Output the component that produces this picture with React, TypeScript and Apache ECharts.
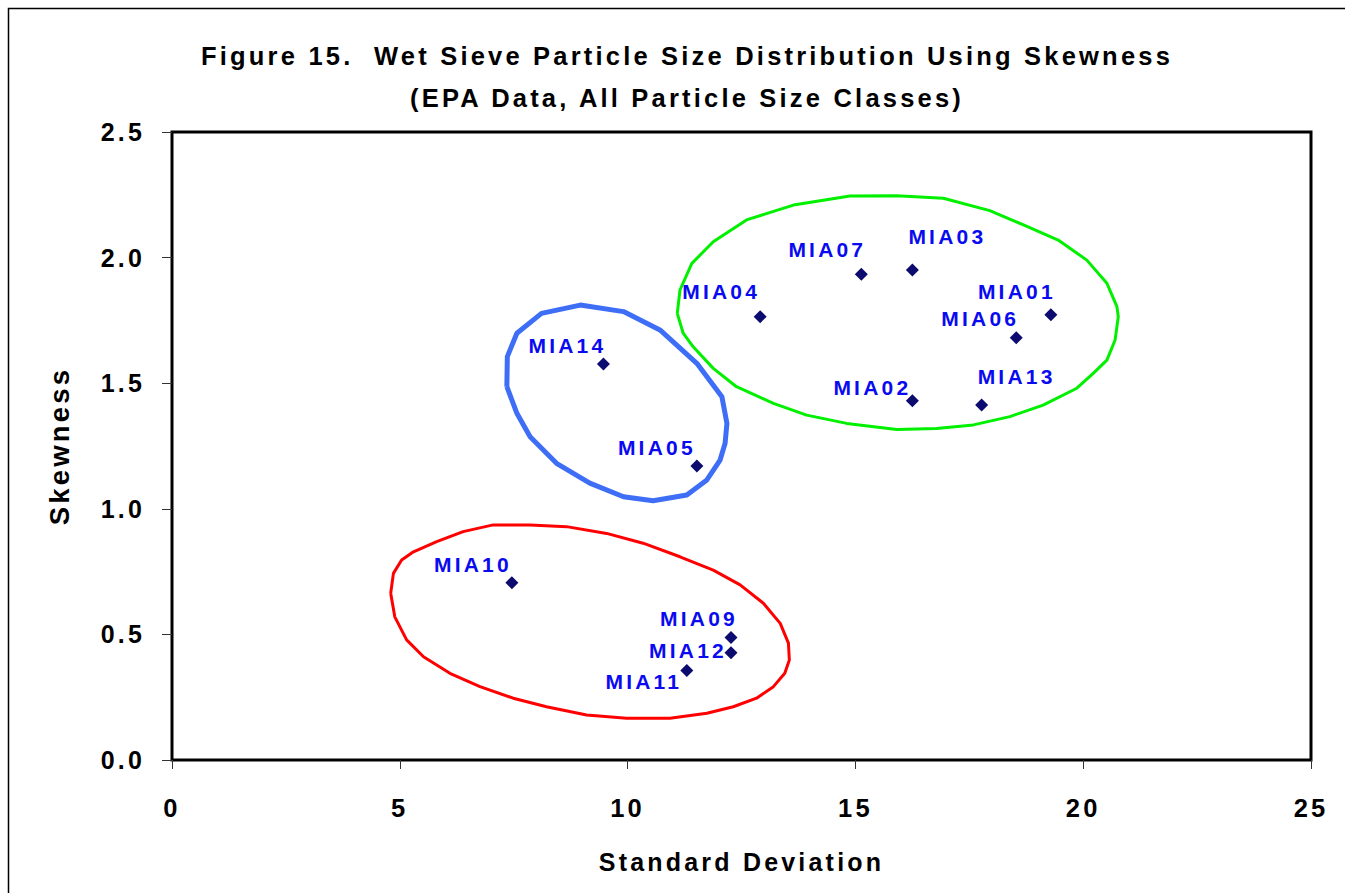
import React, { useEffect, useRef } from 'react';
import * as echarts from 'echarts';

// ---- data ----
const sampleNames = ['MIA01', 'MIA02', 'MIA03', 'MIA04', 'MIA05', 'MIA06', 'MIA07', 'MIA09', 'MIA10', 'MIA11', 'MIA12', 'MIA13', 'MIA14'];
const stdDeviation = [19.29, 16.25, 16.25, 12.91, 11.52, 18.53, 15.13, 12.27, 7.46, 11.30, 12.27, 17.77, 9.47];
const skewness = [1.772, 1.430, 1.951, 1.765, 1.170, 1.681, 1.934, 0.488, 0.706, 0.356, 0.427, 1.413, 1.576];
// label placement (pixels, relative to the marker)
const labelOffsets = [[-34, -23], [-40, -13], [35, -33], [-39, -25], [-40, -19], [-36, -19], [-34, -25], [-32, -19], [-39, -18], [-43, 11], [-43, -2], [35, -29], [-36, -19]];

const xTicks = [0, 5, 10, 15, 20, 25];
const yTicks = [0, 0.5, 1.0, 1.5, 2.0, 2.5];

// hand-drawn group outlines (Standard Deviation, Skewness)
const greenGroup = [
  [11.09, 1.778], [11.15, 1.871], [11.41, 1.977], [11.88, 2.063], [12.61, 2.150], [13.64, 2.209], [14.88, 2.245], [15.91, 2.246],
  [16.93, 2.236], [17.95, 2.187], [18.69, 2.130], [19.45, 2.070], [20.08, 1.990], [20.52, 1.898], [20.74, 1.805], [20.77, 1.765],
  [20.70, 1.672], [20.52, 1.592], [20.22, 1.539], [19.86, 1.480], [19.12, 1.413], [18.39, 1.367], [17.59, 1.334], [16.78, 1.320],
  [15.91, 1.316], [14.81, 1.340], [13.93, 1.373], [13.20, 1.420], [12.39, 1.486], [11.88, 1.559], [11.44, 1.645], [11.22, 1.699],
  [11.09, 1.778],
];
const blueGroup = [
  [7.35, 1.486], [7.36, 1.606], [7.57, 1.699], [8.11, 1.778], [8.96, 1.811], [9.91, 1.785], [10.71, 1.712], [11.52, 1.579],
  [12.07, 1.446], [12.18, 1.340], [12.14, 1.261], [12.03, 1.194], [11.74, 1.115], [11.30, 1.055], [10.56, 1.032], [9.91, 1.048],
  [9.17, 1.102], [8.44, 1.181], [7.86, 1.287], [7.57, 1.380], [7.35, 1.486],
];
const redGroup = [
  [4.80, 0.664], [4.86, 0.743], [5.04, 0.796], [5.30, 0.829], [5.81, 0.869], [6.39, 0.909], [7.05, 0.936], [7.86, 0.936],
  [8.66, 0.929], [9.54, 0.902], [10.34, 0.863], [11.15, 0.809], [11.88, 0.756], [12.47, 0.697], [12.98, 0.624], [13.35, 0.544],
  [13.53, 0.465], [13.55, 0.398], [13.45, 0.345], [13.20, 0.292], [12.83, 0.246], [12.32, 0.212], [11.74, 0.186], [10.93, 0.166],
  [9.98, 0.166], [9.10, 0.179], [8.22, 0.212], [7.49, 0.246], [6.76, 0.292], [6.10, 0.345], [5.52, 0.411], [5.15, 0.478],
  [4.89, 0.570], [4.80, 0.664],
];

const FONT = '"Liberation Sans", Arial, Helvetica, sans-serif';

export default function App() {
  const ref = useRef<HTMLDivElement>(null);

  useEffect(() => {
    document.body.style.margin = '0';
    document.body.style.overflow = 'hidden';
    if (!ref.current) return;
    const chart = echarts.init(ref.current, undefined, { renderer: 'svg' });

    const outline = (data: number[][], color: string, width: number) => ({
      type: 'line',
      data,
      showSymbol: false,
      symbol: 'none',
      smooth: false,
      silent: true,
      z: 1,
      lineStyle: { color, width, join: 'round', opacity: 1 },
    });

    chart.setOption({
      animation: false,
      backgroundColor: '#ffffff',
      textStyle: { fontFamily: FONT },
      title: {
        text: 'Figure 15.  Wet Sieve Particle Size Distribution Using Skewness\n(EPA Data, All Particle Size Classes)',
        left: 687,
        top: 35,
        padding: 0,
        textAlign: 'center',
        textStyle: { fontFamily: FONT, fontWeight: 'bold', fontSize: 25.5, lineHeight: 42, color: '#000' },
      },
      graphic: [
        {
          type: 'rect',
          shape: { x: 8.5, y: 8.5, width: 1360, height: 900 },
          style: { fill: 'none', stroke: '#000', lineWidth: 1.5 },
          silent: true,
          z: -10,
        },
      ],
      grid: {
        left: 172,
        right: 34,
        top: 132,
        bottom: 133,
        show: true,
        borderColor: '#000',
        borderWidth: 3,
        backgroundColor: 'transparent',
      },
      xAxis: {
        type: 'value',
        min: xTicks[0],
        max: xTicks[xTicks.length - 1],
        interval: 5,
        name: 'Standard Deviation',
        nameLocation: 'middle',
        nameGap: 89,
        nameTextStyle: { fontFamily: FONT, fontWeight: 'bold', fontSize: 25, color: '#000' },
        axisLine: { show: false },
        axisTick: { show: true, length: 9, lineStyle: { color: '#333', width: 1 } },
        splitLine: { show: false },
        axisLabel: { margin: 35, fontFamily: FONT, fontWeight: 'bold', fontSize: 25.5, color: '#000' },
      },
      yAxis: {
        type: 'value',
        min: yTicks[0],
        max: yTicks[yTicks.length - 1],
        interval: 0.5,
        name: 'Skewness',
        nameLocation: 'middle',
        nameGap: 99,
        nameTextStyle: { fontFamily: FONT, fontWeight: 'bold', fontSize: 27.5, color: '#000' },
        axisLine: { show: false },
        axisTick: { show: true, length: 10, lineStyle: { color: '#333', width: 1 } },
        splitLine: { show: false },
        axisLabel: {
          margin: 27,
          fontFamily: FONT,
          fontWeight: 'bold',
          fontSize: 25,
          color: '#000',
          formatter: (v: number) => v.toFixed(1),
        },
      },
      series: [
        outline(greenGroup, '#00F000', 3),
        outline(blueGroup, '#3F6EF6', 5),
        outline(redGroup, '#FF0000', 3),
        {
          type: 'scatter',
          symbol: 'diamond',
          symbolSize: 13,
          z: 5,
          silent: true,
          itemStyle: { color: '#0B0B70', opacity: 1 },
          data: sampleNames.map((name, i) => ({
            name,
            value: [stdDeviation[i], skewness[i]],
            label: {
              show: true,
              position: 'inside',
              offset: labelOffsets[i],
              formatter: name,
              fontFamily: FONT,
              fontWeight: 'bold',
              fontSize: 21,
              color: '#0A0AF0',
              opacity: 1,
            },
          })),
        },
      ],
    });

    return () => chart.dispose();
  }, []);

  return <div ref={ref} style={{ width: 1345, height: 893, letterSpacing: '3.2px' }} />;
}
